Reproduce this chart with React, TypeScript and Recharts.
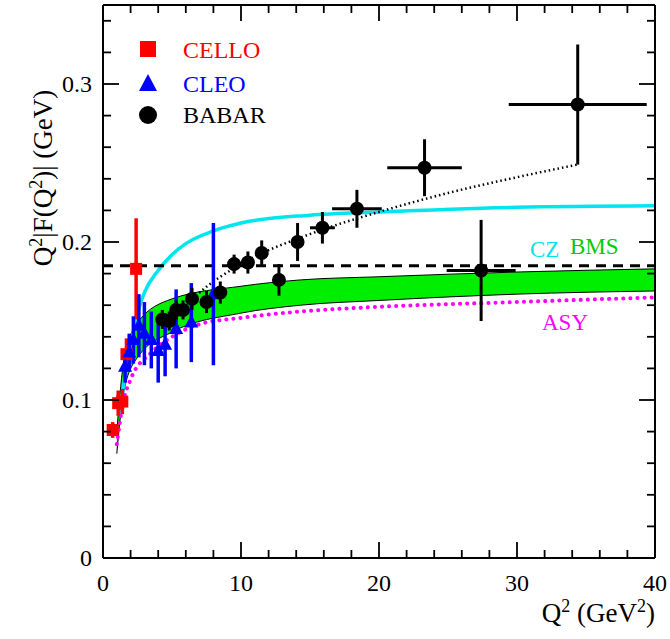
import React from 'react';
import { ComposedChart, XAxis, YAxis, Line, Area, Scatter, ErrorBar, ReferenceLine } from 'recharts';

const celloX = [0.7, 1.1, 1.4, 1.7, 2.4];
const celloY = [0.081, 0.098, 0.099, 0.129, 0.183];
const celloE = [0.005, 0.008, 0.008, 0.01, 0.032];

const cleoX = [1.6, 1.9, 2.2, 2.6, 3.0, 3.5, 4.0, 4.5, 5.3, 6.4, 8.0];
const cleoY = [0.121, 0.130, 0.138, 0.147, 0.142, 0.138, 0.131, 0.135, 0.145, 0.149, 0.167];
const cleoE = [0.01, 0.012, 0.015, 0.02, 0.02, 0.018, 0.02, 0.02, 0.025, 0.025, 0.045];

const babarX = [4.3, 4.8, 5.3, 5.8, 6.45, 7.5, 8.5, 9.5, 10.5, 11.5, 12.75, 14.1, 15.9, 18.4, 23.3, 27.4, 34.4];
const babarY = [0.151, 0.150, 0.157, 0.157, 0.164, 0.162, 0.168, 0.186, 0.187, 0.193, 0.176, 0.200, 0.209, 0.221, 0.247, 0.182, 0.287];
const babarE = [0.006, 0.006, 0.006, 0.006, 0.007, 0.007, 0.007, 0.006, 0.007, 0.008, 0.01, 0.012, 0.01, 0.012, 0.018, 0.032, 0.038];
const babarXE = [0, 0, 0, 0, 0, 0, 0, 0, 0, 0, 0, 0, 0.9, 1.8, 2.7, 2.5, 5];

const czX = [1.2, 1.5, 2, 2.5, 3, 4, 5, 6, 8, 10, 15, 20, 30, 40];
const czY = [0.09, 0.11, 0.135, 0.155, 0.168, 0.182, 0.192, 0.199, 0.207, 0.212, 0.217, 0.219, 0.222, 0.223];

const bmsX = [1.0, 1.5, 2.5, 5, 10, 14.3, 20, 30, 40];
const bmsLo = [0.066, 0.105, 0.127, 0.143, 0.155, 0.160, 0.163, 0.167, 0.169];
const bmsHi = [0.08, 0.124, 0.149, 0.164, 0.172, 0.176, 0.178, 0.181, 0.183];

const asyX = [1.0, 1.5, 2, 3.5, 5, 7, 10, 14.3, 20, 30, 40];
const asyY = [0.072, 0.100, 0.113, 0.130, 0.140, 0.148, 0.152, 0.156, 0.159, 0.162, 0.165];

const dotX = [4.5, 7, 10, 15, 20, 25, 30, 34.4];
const dotY = [0.145, 0.168, 0.186, 0.205, 0.219, 0.231, 0.241, 0.249];

const xTicks = [0, 2, 4, 6, 8, 10, 12, 14, 16, 18, 20, 22, 24, 26, 28, 30, 32, 34, 36, 38, 40];
const yTicks = Array.from({ length: 18 }, (_, i) => Math.round(i * 2) / 100);

const mk = (xs: number[], ys: number[], es?: number[], xes?: number[]) =>
  xs.map((x, i) => ({ x, y: ys[i], e: es ? es[i] : 0, xe: xes ? xes[i] : 0 }));

const cello = mk(celloX, celloY, celloE);
const cleo = mk(cleoX, cleoY, cleoE);
const babar = mk(babarX, babarY, babarE, babarXE);
const cz = mk(czX, czY);
const asy = mk(asyX, asyY);
const dot = mk(dotX, dotY);
const bms = bmsX.map((x, i) => ({ x, band: [bmsLo[i], bmsHi[i]], lo: bmsLo[i], hi: bmsHi[i] }));

const font = '"Liberation Serif", "Times New Roman", serif';

const XTick = (side: 'bottom' | 'top') => (p: any) => {
  const v = p.payload.value;
  const major = v % 10 === 0;
  const len = major ? 16 : 8;
  const y = side === 'bottom' ? 558 : 5;
  const dir = side === 'bottom' ? -1 : 1;
  return (
    <g>
      <line x1={p.x} x2={p.x} y1={y} y2={y + dir * len} stroke="#000" strokeWidth={1.8} />
      {side === 'bottom' && major && (
        <text x={p.x} y={591} textAnchor="middle" fontSize={24} fontFamily={font}>{v}</text>
      )}
    </g>
  );
};

const YTick = (side: 'left' | 'right') => (p: any) => {
  const v = Math.round(p.payload.value * 100);
  const major = v % 10 === 0;
  const len = major ? 16 : 8;
  const x = side === 'left' ? 103 : 655;
  const dir = side === 'left' ? 1 : -1;
  return (
    <g>
      <line x1={x} x2={x + dir * len} y1={p.y} y2={p.y} stroke="#000" strokeWidth={1.8} />
      {side === 'left' && major && (
        <text x={92} y={p.y + 8} textAnchor="end" fontSize={24} fontFamily={font}>{v === 0 ? '0' : (v / 100).toString()}</text>
      )}
    </g>
  );
};

const Square = (p: any) => <rect x={p.cx - 6} y={p.cy - 6} width={12} height={12} fill="#ff0000" />;
const Tri = (p: any) => <polygon points={`${p.cx},${p.cy - 8} ${p.cx - 7},${p.cy + 5} ${p.cx + 7},${p.cy + 5}`} fill="#0000ff" />;
const Dot = (p: any) => <circle cx={p.cx} cy={p.cy} r={7} fill="#000" />;

const axLine = { stroke: '#000', strokeWidth: 2 };

export default function App() {
  return (
    <div style={{ position: 'absolute', left: 0, top: 0, width: 670, height: 639, background: '#fff' }}>
      <ComposedChart width={670} height={639} margin={{ top: 4, right: 14, left: 102, bottom: 80 }}>
        <XAxis xAxisId="b" type="number" dataKey="x" domain={[0, 40]} ticks={xTicks} interval={0}
          tick={XTick('bottom')} tickLine={false} axisLine={axLine} height={1} allowDataOverflow />
        <XAxis xAxisId="t" orientation="top" type="number" dataKey="x" domain={[0, 40]} ticks={xTicks} interval={0}
          tick={XTick('top')} tickLine={false} axisLine={axLine} height={1} allowDataOverflow />
        <YAxis yAxisId="l" type="number" domain={[0, 0.35]} ticks={yTicks} interval={0}
          tick={YTick('left')} tickLine={false} axisLine={axLine} width={1} allowDataOverflow />
        <YAxis yAxisId="r" orientation="right" type="number" domain={[0, 0.35]} ticks={yTicks} interval={0}
          tick={YTick('right')} tickLine={false} axisLine={axLine} width={1} allowDataOverflow />

        <Area xAxisId="b" yAxisId="l" data={bms} dataKey="band" type="monotone" fill="#00ee00" fillOpacity={1} stroke="none" isAnimationActive={false} />
        <Line xAxisId="b" yAxisId="l" data={bms} dataKey="lo" type="monotone" stroke="#000" strokeWidth={1} dot={false} isAnimationActive={false} />
        <Line xAxisId="b" yAxisId="l" data={bms} dataKey="hi" type="monotone" stroke="#000" strokeWidth={1} dot={false} isAnimationActive={false} />
        <Line xAxisId="b" yAxisId="l" data={cz} dataKey="y" type="monotone" stroke="#00e5ee" strokeWidth={3.5} dot={false} isAnimationActive={false} />
        <Line xAxisId="b" yAxisId="l" data={asy} dataKey="y" type="monotone" stroke="#ff00ff" strokeWidth={4} strokeDasharray="0.1 7" strokeLinecap="round" dot={false} isAnimationActive={false} />
        <Line xAxisId="b" yAxisId="l" data={dot} dataKey="y" type="monotone" stroke="#000" strokeWidth={2.5} strokeDasharray="1.5 3" dot={false} isAnimationActive={false} />
        <ReferenceLine xAxisId="b" yAxisId="l" y={0.185} stroke="#000" strokeWidth={3} strokeDasharray="10 7" />

        <Scatter xAxisId="b" yAxisId="l" data={cello} dataKey="y" shape={Square} isAnimationActive={false}>
          <ErrorBar dataKey="e" direction="y" width={0} stroke="#ff0000" strokeWidth={3.5} />
        </Scatter>
        <Scatter xAxisId="b" yAxisId="l" data={cleo} dataKey="y" shape={Tri} isAnimationActive={false}>
          <ErrorBar dataKey="e" direction="y" width={0} stroke="#0000ff" strokeWidth={3.5} />
        </Scatter>
        <Scatter xAxisId="b" yAxisId="l" data={babar} dataKey="y" shape={Dot} isAnimationActive={false}>
          <ErrorBar dataKey="e" direction="y" width={0} stroke="#000" strokeWidth={3} />
          <ErrorBar dataKey="xe" direction="x" width={0} stroke="#000" strokeWidth={3} />
        </Scatter>
      </ComposedChart>

      <svg width={670} height={639} style={{ position: 'absolute', left: 0, top: 0, pointerEvents: 'none' }}>
        <g fontFamily={font} fontSize={24}>
          <rect x={140} y={41} width={16} height={16} fill="#ff0000" />
          <text x={183} y={58} fill="#ff0000">CELLO</text>
          <polygon points="148,74 139,91 157,91" fill="#0000ff" />
          <text x={183} y={92} fill="#0000ff">CLEO</text>
          <circle cx={148} cy={115} r={9} fill="#000" />
          <text x={183} y={123} fill="#000">BABAR</text>
          <text x={530} y={257} fill="#00e5ee" fontSize={23}>CZ</text>
          <text x={570} y={254} fill="#00cc00" fontSize={23}>BMS</text>
          <text x={542} y={330} fill="#ff00ff" fontSize={23}>ASY</text>
          <text x={655} y={622} textAnchor="end" fontSize={27}>Q<tspan dy={-10} fontSize={18}>2</tspan><tspan dy={10}> (GeV</tspan><tspan dy={-10} fontSize={18}>2</tspan><tspan dy={10}>)</tspan></text>
          <text transform="translate(52,178) rotate(-90)" textAnchor="middle" fontSize={27}>Q<tspan dy={-10} fontSize={18}>2</tspan><tspan dy={10}>|F(Q</tspan><tspan dy={-10} fontSize={18}>2</tspan><tspan dy={10}>)| (GeV)</tspan></text>
        </g>
      </svg>
    </div>
  );
}
